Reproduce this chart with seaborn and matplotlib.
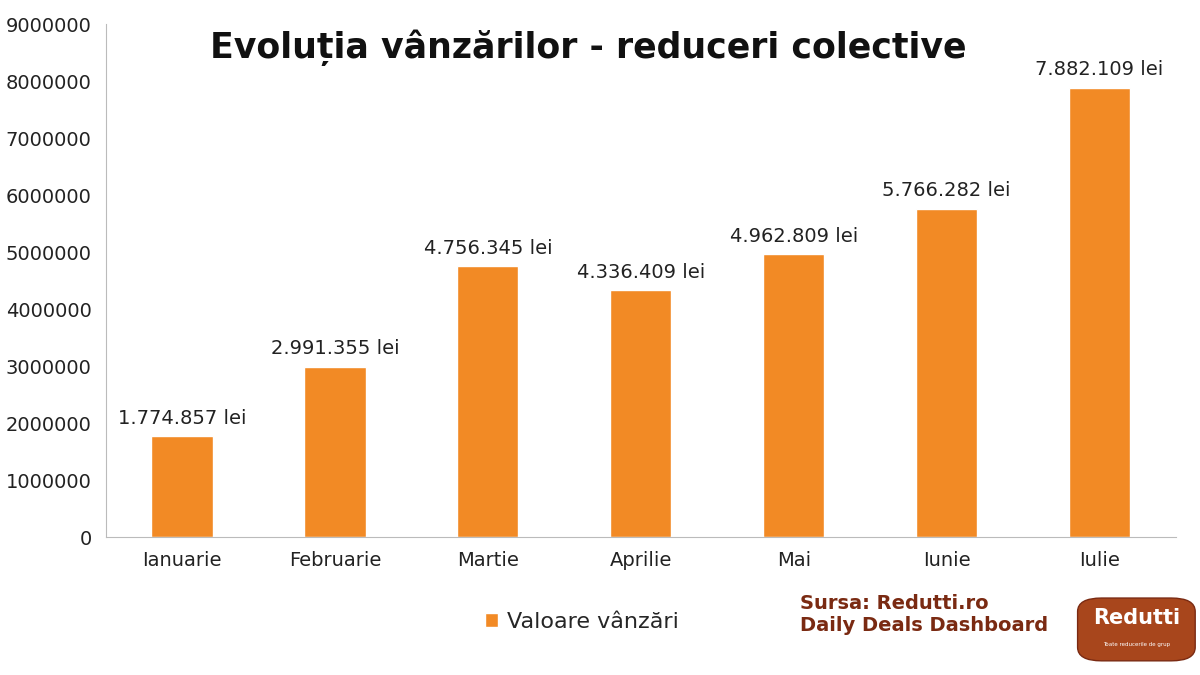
import numpy as np
import pandas as pd
import matplotlib
matplotlib.use('Agg')
import matplotlib.pyplot as plt
import seaborn as sns
from matplotlib.patches import FancyBboxPatch

luni = ['Ianuarie', 'Februarie', 'Martie', 'Aprilie', 'Mai', 'Iunie', 'Iulie']
vanzari = [1774857, 2991355, 4756345, 4336409, 4962809, 5766282, 7882109]
etichete = ['1.774.857 lei', '2.991.355 lei', '4.756.345 lei', '4.336.409 lei',
            '4.962.809 lei', '5.766.282 lei', '7.882.109 lei']

df = pd.DataFrame({'luna': luni, 'valoare': vanzari})

sns.set_style('white')
plt.rcParams['font.family'] = ['DejaVu Sans']

fig = plt.figure(figsize=(12, 6.75), dpi=100)
ax = fig.add_axes([0.088, 0.204, 0.892, 0.76])
sns.barplot(data=df, x='luna', y='valoare', color='#F28A25', saturation=1,
            width=0.4, ax=ax, label='Valoare vânzări')
ax.set_ylim(0, 9000000)
ax.set_yticks(np.arange(0, 9000001, 1000000))
ax.set_yticklabels([str(v) for v in range(0, 9000001, 1000000)])
ax.set_xlabel('')
ax.set_ylabel('')
ax.tick_params(axis='both', labelsize=14, colors='#222222', length=0, pad=10)
for s in ['top', 'right']:
    ax.spines[s].set_visible(False)
for s in ['left', 'bottom']:
    ax.spines[s].set_color('#BBBBBB')

for i, (v, t) in enumerate(zip(vanzari, etichete)):
    ax.text(i, v + 150000, t, ha='center', va='bottom', fontsize=14, color='#222222')

fig.text(0.49, 0.93, 'Evoluția vânzărilor - reduceri colective', ha='center',
         va='center', fontsize=25, fontweight='bold', color='#111111')

leg = ax.legend(loc='center', bbox_to_anchor=(0.445, -0.165), frameon=False,
                fontsize=16, handlelength=0.6, handleheight=0.6, handletextpad=0.4)

fig.text(0.667, 0.09, 'Sursa: Redutti.ro\nDaily Deals Dashboard', ha='left', va='center',
         fontsize=14, fontweight='bold', color='#7A2A12', linespacing=1.2)
logo = FancyBboxPatch((0.902, 0.025), 0.09, 0.085, boxstyle='round,pad=0.004,rounding_size=0.02',
                      transform=fig.transFigure, facecolor='#A8461C', edgecolor='#7A2A12')
fig.patches.append(logo)
fig.text(0.947, 0.085, 'Redutti', ha='center', va='center', fontsize=15,
         fontweight='bold', color='white')
fig.text(0.947, 0.045, 'Toate reducerile de grup', ha='center', va='center', fontsize=4,
         color='white')

fig.savefig('out.png', dpi=100)
